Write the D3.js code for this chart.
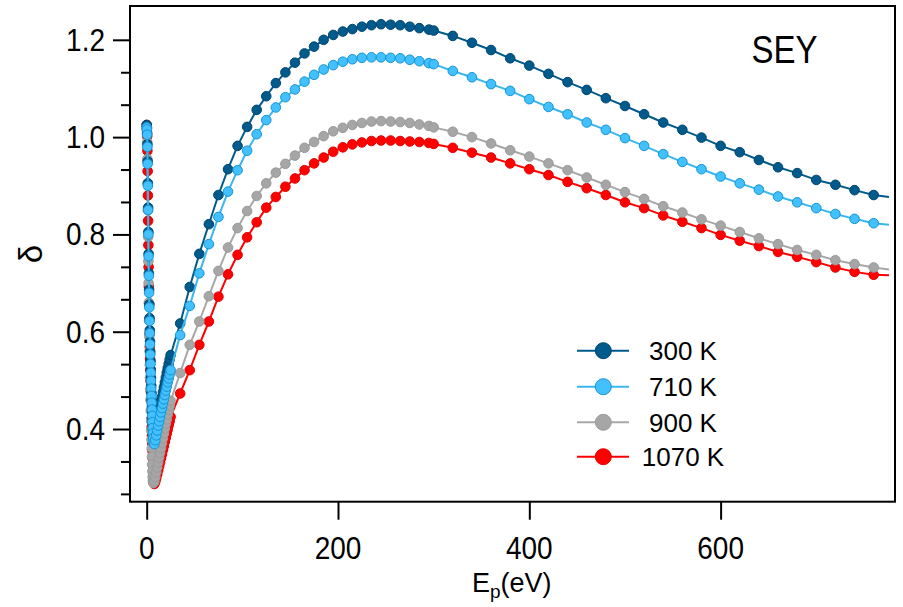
<!DOCTYPE html>
<html>
<head>
<meta charset="utf-8">
<script src="https://cdn.jsdelivr.net/npm/d3@7"></script>
<style>
  html, body { margin: 0; padding: 0; background: #fff; }
  svg { display: block; }
  text { font-family: "Liberation Sans", Arial, Helvetica, sans-serif; fill: #000; }
</style>
</head>
<body>
<svg id="chart" width="903" height="607"></svg>
<script>
// ---------- DATA ----------
const energyLow = [0,0.25,0.5,0.75,1,1.25,1.5,1.75,2,2.25,2.5,2.75,3,3.25,3.5,3.75,4,4.25,4.5,4.75,5,5.25,5.5,5.75,6,6.25,6.5,6.75,7,
  8,9,10,11,12,13,14,15,16,17,18,19,20,21,22,23,24,25];
const energyMid = [35,45,55,65,75,85,95,105,115,125,135,145,155,165,175,185,195,205,215,225,235,245,255,265,275,285,295];
const energyHigh = [300,320,340,360,380,400,420,440,460,480,500,520,540,560,580,600,620,640,660,680,700,720,740,760];
// the connecting lines run a little past the last marker
const tailEnergy = 776;
const tailValues = [0.877, 0.820, 0.728, 0.716];

const sey300 = [
  1.025,1.020,1.008,0.985,0.950,0.905,0.855,0.805,0.760,0.720,0.686,0.656,0.628,0.603,0.580,0.559,0.540,0.522,0.505,0.489,0.474,0.460,0.447,0.434,0.422,0.410,0.399,0.389,0.382,
  0.379,0.390,0.401,0.412,0.423,0.434,0.445,0.456,0.466,0.476,0.486,0.496,0.506,0.516,0.525,0.534,0.543,0.552,
  0.617,0.692,0.760,0.821,0.881,0.934,0.982,1.021,1.056,1.084,1.111,1.133,1.153,1.172,1.186,1.200,1.210,1.217,1.222,1.227,1.230,1.232,1.231,1.230,1.227,1.224,1.221,
  1.219,1.208,1.194,1.179,1.162,1.147,1.130,1.113,1.097,1.080,1.064,1.047,1.030,1.015,0.999,0.982,0.969,0.953,0.938,0.926,0.912,0.902,0.891,0.881
];
const sey710 = [
  1.020,1.016,1.005,0.980,0.945,0.900,0.850,0.800,0.755,0.715,0.680,0.650,0.622,0.597,0.574,0.553,0.534,0.516,0.499,0.483,0.468,0.454,0.440,0.427,0.414,0.402,0.391,0.381,0.372,
  0.369,0.377,0.387,0.397,0.407,0.416,0.425,0.434,0.443,0.452,0.461,0.470,0.479,0.487,0.496,0.504,0.512,0.521,
  0.593,0.653,0.720,0.780,0.836,0.888,0.932,0.972,1.006,1.035,1.061,1.082,1.098,1.114,1.128,1.139,1.148,1.155,1.160,1.163,1.164,1.164,1.163,1.162,1.159,1.156,1.152,
  1.150,1.136,1.123,1.109,1.095,1.078,1.062,1.047,1.030,1.015,0.998,0.982,0.965,0.949,0.934,0.919,0.905,0.892,0.878,0.866,0.854,0.842,0.832,0.823
];
const sey900 = [
  1.015,1.008,0.990,0.955,0.905,0.850,0.795,0.745,0.700,0.660,0.623,0.590,0.560,0.532,0.506,0.482,0.460,0.438,0.417,0.397,0.378,0.360,0.343,0.327,0.313,0.302,0.294,0.290,0.289,
  0.292,0.301,0.311,0.321,0.331,0.341,0.351,0.361,0.371,0.381,0.391,0.401,0.411,0.420,0.430,0.439,0.448,0.458,
  0.515,0.573,0.621,0.673,0.725,0.773,0.813,0.848,0.879,0.905,0.927,0.945,0.962,0.978,0.990,1.002,1.012,1.019,1.025,1.029,1.032,1.033,1.032,1.031,1.029,1.026,1.023,
  1.020,1.011,1.000,0.987,0.973,0.960,0.946,0.932,0.917,0.902,0.887,0.873,0.858,0.845,0.831,0.818,0.805,0.792,0.780,0.768,0.758,0.747,0.739,0.732
];
const sey1070 = [
  1.025,1.018,1.002,0.972,0.930,0.880,0.828,0.778,0.733,0.693,0.657,0.625,0.596,0.569,0.544,0.521,0.499,0.478,0.458,0.439,0.421,0.404,0.387,0.371,0.355,0.340,0.326,0.313,0.302,
  0.287,0.292,0.299,0.307,0.315,0.323,0.331,0.340,0.348,0.357,0.365,0.374,0.382,0.391,0.399,0.408,0.416,0.425,
  0.473,0.521,0.573,0.621,0.672,0.718,0.758,0.794,0.825,0.855,0.877,0.898,0.915,0.932,0.946,0.958,0.970,0.979,0.985,0.989,0.992,0.993,0.993,0.992,0.991,0.990,0.988,
  0.986,0.978,0.968,0.958,0.946,0.934,0.922,0.908,0.895,0.881,0.866,0.854,0.839,0.826,0.813,0.799,0.787,0.776,0.764,0.754,0.743,0.732,0.723,0.717
];

const seriesLabels = ["300 K", "710 K", "900 K", "1070 K"];
const xTickValues = [0, 200, 400, 600];
const yTickValues = [0.4, 0.6, 0.8, 1.0, 1.2];
const yTickLabels = ["0.4", "0.6", "0.8", "1.0", "1.2"];
const xTickLabels = ["0", "200", "400", "600"];

// ---------- BUILD ----------
const energies = energyLow.concat(energyMid, energyHigh);
const seriesValues = [sey300, sey710, sey900, sey1070];
const styles = [
  {line: "#005a8c", fill: "#005a8c", stroke: "#004670"},
  {line: "#3ab7f0", fill: "#42c0ff", stroke: "#1595d2"},
  {line: "#a8a8a8", fill: "#a6a6a6", stroke: "#9a9a9a"},
  {line: "#ff0000", fill: "#ff0000", stroke: "#e60000"}
];
const series = seriesLabels.map((label, i) => {
  const points = energies.map((e, j) => ({e, v: seriesValues[i][j]}));
  return {label, style: styles[i], points, linePoints: points.concat([{e: tailEnergy, v: tailValues[i]}])};
});

const svg = d3.select("#chart");
const L = 130, R = 895, T = 6, B = 501.7;
const x = d3.scaleLinear().domain([-17.45, 782.3]).range([L, R]);
const y = d3.scaleLinear().domain([0.2506, 1.2695]).range([B, T]);

svg.append("defs").append("clipPath").attr("id", "clip")
  .append("rect").attr("x", L).attr("y", T).attr("width", R - L).attr("height", B - T);

// data: draw order red, gray, dark blue, light blue
const plot = svg.append("g").attr("clip-path", "url(#clip)");
const line = d3.line().x(d => x(d.e)).y(d => y(d.v));
[3, 2, 0, 1].forEach(i => {
  const s = series[i];
  const g = plot.append("g");
  g.append("path").datum(s.linePoints)
    .attr("d", line).attr("fill", "none")
    .attr("stroke", s.style.line).attr("stroke-width", 2).attr("stroke-linejoin", "round");
  g.selectAll("circle").data(s.points).join("circle")
    .attr("cx", d => x(d.e)).attr("cy", d => y(d.v)).attr("r", 4.8)
    .attr("fill", s.style.fill).attr("stroke", s.style.stroke).attr("stroke-width", 1);
});

// frame
svg.append("rect").attr("x", L).attr("y", T).attr("width", R - L).attr("height", B - T)
  .attr("fill", "none").attr("stroke", "#000").attr("stroke-width", 2);

// x axis ticks
const xAxis = svg.append("g").attr("transform", `translate(0,${B})`)
  .call(d3.axisBottom(x).tickValues(xTickValues).tickSize(18).tickFormat(""));
xAxis.select(".domain").remove();
xAxis.selectAll(".tick line").attr("stroke", "#000").attr("stroke-width", 2);

// y axis ticks (major + minor)
const minorY = [];
[0.2, 0.4, 0.6, 0.8, 1.0].forEach(m => { minorY.push(m + 0.2 / 3, m + 0.4 / 3); });
const yMinor = svg.append("g").attr("transform", `translate(${L},0)`)
  .call(d3.axisLeft(y).tickValues(minorY.filter(v => v > 0.2506 && v < 1.26)).tickSize(9).tickFormat(""));
yMinor.select(".domain").remove();
yMinor.selectAll(".tick line").attr("stroke", "#000").attr("stroke-width", 2);
const yAxis = svg.append("g").attr("transform", `translate(${L},0)`)
  .call(d3.axisLeft(y).tickValues(yTickValues).tickSize(17).tickFormat(""));
yAxis.select(".domain").remove();
yAxis.selectAll(".tick line").attr("stroke", "#000").attr("stroke-width", 2);

// tick labels
xTickValues.forEach((v, i) => {
  svg.append("text").attr("transform", `translate(${x(v)},559) scale(1,1.1)`)
    .attr("text-anchor", "middle").attr("font-size", 28).text(xTickLabels[i]);
});
yTickValues.forEach((v, i) => {
  svg.append("text").attr("transform", `translate(105,${y(v) + 11}) scale(1,1.1)`)
    .attr("text-anchor", "end").attr("font-size", 28).text(yTickLabels[i]);
});

// axis titles
const xt = svg.append("text").attr("x", 472).attr("y", 591.5).attr("font-size", 27);
xt.append("tspan").text("E");
xt.append("tspan").attr("font-size", 19).attr("dy", 6).text("p");
xt.append("tspan").attr("dy", -6).text("(eV)");

svg.append("text").attr("transform", "translate(41.5,254) rotate(-90)")
  .attr("text-anchor", "middle").attr("font-size", 33).text("δ");

// SEY
svg.append("text").attr("transform", "translate(751.5,63) scale(1,1.2)")
  .attr("font-size", 33).text("SEY");

// legend
const legY = [350.7, 386.7, 422.3, 456.7];
series.forEach((s, i) => {
  const g = svg.append("g");
  g.append("line").attr("x1", 577).attr("x2", 629).attr("y1", legY[i]).attr("y2", legY[i])
    .attr("stroke", s.style.line).attr("stroke-width", 2);
  g.append("circle").attr("cx", 603.3).attr("cy", legY[i]).attr("r", 8)
    .attr("fill", s.style.fill).attr("stroke", s.style.stroke).attr("stroke-width", 1);
  g.append("text").attr("x", 683).attr("y", legY[i] + 9.3).attr("text-anchor", "middle")
    .attr("font-size", 26).text(s.label);
});
</script>
</body>
</html>
